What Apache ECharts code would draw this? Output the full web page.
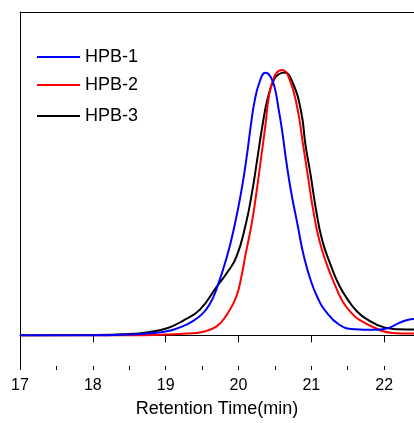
<!DOCTYPE html>
<html>
<head>
<meta charset="utf-8">
<script src="https://cdn.jsdelivr.net/npm/echarts@6/dist/echarts.min.js"></script>
<style>
html,body{margin:0;padding:0;background:#fff;}
#chart{width:414px;height:423px;}
</style>
</head>
<body>
<div id="chart"></div>
<script>
var seriesNames = ['HPB-1', 'HPB-2', 'HPB-3'];
var xTickLabels = [17, 18, 19, 20, 21, 22];
var xTitle = 'Retention Time(min)';

var hpb1T = [17.0, 18.0, 18.5, 18.8, 19.05, 19.23, 19.35, 19.5, 19.6, 19.7, 19.84, 19.95, 20.04, 20.11, 20.17, 20.22, 20.29, 20.37, 20.44, 20.5, 20.55, 20.6, 20.65, 20.72, 20.81, 20.9, 21.0, 21.09, 21.18, 21.38, 21.6, 21.85, 22.05, 22.2, 22.32, 22.41];
var hpb1V = [0, 0, 0.003, 0.008, 0.017, 0.034, 0.05, 0.08, 0.115, 0.176, 0.295, 0.419, 0.545, 0.668, 0.792, 0.881, 0.955, 0.99, 0.975, 0.93, 0.854, 0.77, 0.668, 0.545, 0.419, 0.295, 0.2, 0.14, 0.097, 0.041, 0.023, 0.021, 0.027, 0.046, 0.058, 0.062];

var hpb2T = [17.0, 18.5, 19.0, 19.3, 19.5, 19.7, 19.84, 19.97, 20.05, 20.09, 20.18, 20.25, 20.31, 20.37, 20.42, 20.49, 20.56, 20.6, 20.7, 20.81, 20.88, 20.95, 21.02, 21.11, 21.22, 21.34, 21.43, 21.55, 21.66, 21.93, 22.11, 22.41];
var hpb2V = [0, 0, 0.003, 0.007, 0.013, 0.034, 0.078, 0.146, 0.235, 0.295, 0.419, 0.545, 0.668, 0.792, 0.904, 0.974, 0.998, 1.0, 0.966, 0.854, 0.731, 0.606, 0.481, 0.358, 0.262, 0.18, 0.128, 0.085, 0.058, 0.021, 0.009, 0.007];

var hpb3T = [17.0, 17.9, 18.5, 18.78, 19.02, 19.23, 19.47, 19.7, 19.84, 19.97, 20.1, 20.19, 20.26, 20.33, 20.4, 20.49, 20.56, 20.63, 20.74, 20.86, 20.92, 20.99, 21.06, 21.15, 21.27, 21.38, 21.52, 21.62, 21.75, 22.0, 22.2, 22.41];
var hpb3V = [0, 0.001, 0.005, 0.013, 0.027, 0.054, 0.097, 0.183, 0.235, 0.295, 0.419, 0.545, 0.668, 0.792, 0.892, 0.966, 0.985, 0.991, 0.955, 0.843, 0.718, 0.606, 0.481, 0.358, 0.262, 0.19, 0.127, 0.093, 0.063, 0.03, 0.023, 0.022];

var colors = ['#0000ff', '#ff0000', '#000000'];

function pairs(t, v) { return t.map(function (x, i) { return [x, v[i]]; }); }
var allData = [pairs(hpb1T, hpb1V), pairs(hpb2T, hpb2V), pairs(hpb3T, hpb3V)];

var font = '"Liberation Sans", Arial, sans-serif';
var legendTops = [48, 76, 107];

var chart = echarts.init(document.getElementById('chart'), null, {renderer: 'canvas'});
var option = {
  backgroundColor: '#ffffff',
  animation: false,
  grid: {left: 20, right: 0, top: 12, bottom: 53, containLabel: false},
  legend: seriesNames.map(function (n, i) {
    return {
      data: [n],
      left: 37,
      top: legendTops[i],
      icon: 'rect',
      itemWidth: 43,
      itemHeight: 2,
      padding: 0,
      textStyle: {fontFamily: font, fontSize: 18, color: '#000'},
      selectedMode: false
    };
  }),
  xAxis: [
    {
      type: 'value', min: 17, max: 22.41, interval: 1,
      position: 'bottom',
      name: xTitle, nameLocation: 'middle', nameGap: 34,
      nameTextStyle: {fontFamily: font, fontSize: 18, color: '#000'},
      axisLine: {show: true, lineStyle: {color: '#000', width: 1}},
      axisTick: {show: true, inside: false, length: 7, lineStyle: {color: '#000', width: 1}},
      axisLabel: {
        show: true, margin: 12, fontFamily: font, fontSize: 16, color: '#000',
        showMaxLabel: false,
        formatter: function (v) { return xTickLabels.indexOf(v) >= 0 ? String(v) : ''; }
      },
      splitLine: {show: false}
    },
    {
      type: 'value', min: 17, max: 22.41, interval: 0.5,
      position: 'bottom',
      axisLine: {show: false},
      axisTick: {show: true, inside: false, length: 4, lineStyle: {color: '#000', width: 1}},
      axisLabel: {show: false},
      splitLine: {show: false}
    },
    {
      type: 'value', min: 17, max: 22.41,
      position: 'top',
      axisLine: {show: true, lineStyle: {color: '#000', width: 1}},
      axisTick: {show: false},
      axisLabel: {show: false},
      splitLine: {show: false}
    }
  ],
  yAxis: {
    type: 'value', min: -0.1155, max: 1.2188,
    axisLine: {show: true, lineStyle: {color: '#000', width: 1}},
    axisTick: {show: false},
    axisLabel: {show: false},
    splitLine: {show: false}
  },
  series: seriesNames.map(function (n, i) {
    return {
      name: n,
      type: 'line',
      xAxisIndex: 0,
      data: allData[i],
      smooth: 0.5,
      showSymbol: false,
      symbol: 'none',
      z: 5 - i,
      itemStyle: {color: colors[i]},
      lineStyle: {color: colors[i], width: 2}
    };
  })
};
chart.setOption(option);
</script>
</body>
</html>
